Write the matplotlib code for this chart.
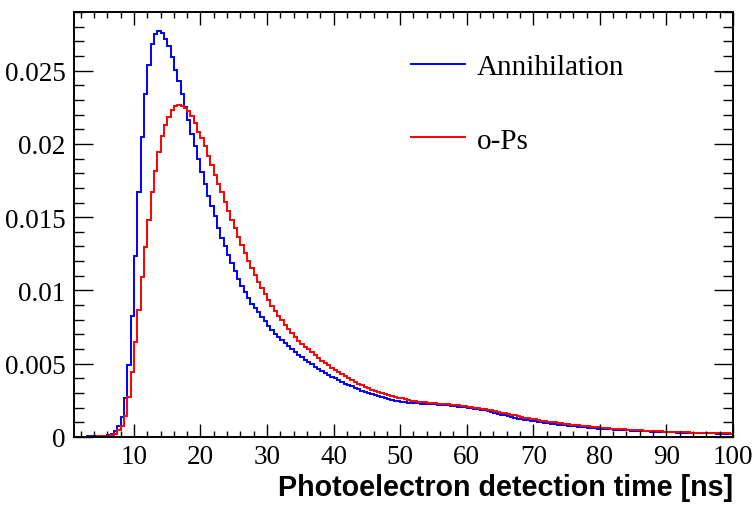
import numpy as np
import matplotlib
matplotlib.use("Agg")
import matplotlib.pyplot as plt
from matplotlib.ticker import MultipleLocator, FixedLocator
from matplotlib.lines import Line2D

# Histogram binning: 0.5 ns bins from 1 to 100 ns
t_lo, t_hi, bin_w = 1.0, 100.0, 0.5

# Annihilation (blue), one value per 0.5 ns bin, rows of 5 ns
annihilation = [
    0.00002, 0.00002, 0.00003, 0.00003, 0.00004, 0.00004, 0.00005, 0.00006, 0.00007, 0.00009,
    0.00013, 0.00022, 0.00040, 0.00075, 0.00139, 0.00266, 0.00490, 0.00827, 0.01237, 0.01669,
    0.02044, 0.02340, 0.02540, 0.02680, 0.02750, 0.02770, 0.02756, 0.02715, 0.02665, 0.02590,
    0.02503, 0.02430, 0.02340, 0.02250, 0.02160, 0.02067, 0.01987, 0.01896, 0.01810, 0.01723,
    0.01644, 0.01574, 0.01505, 0.01429, 0.01357, 0.01300, 0.01244, 0.01187, 0.01130, 0.01078,
    0.01032, 0.00990, 0.00950, 0.00910, 0.00880, 0.00850, 0.00820, 0.00790, 0.00760, 0.00730,
    0.00705, 0.00680, 0.00660, 0.00640, 0.00620, 0.00600, 0.00580, 0.00560, 0.00543, 0.00527,
    0.00510, 0.00495, 0.00480, 0.00465, 0.00450, 0.00437, 0.00424, 0.00411, 0.00400, 0.00388,
    0.00376, 0.00365, 0.00355, 0.00345, 0.00335, 0.00326, 0.00317, 0.00308, 0.00300, 0.00292,
    0.00285, 0.00278, 0.00271, 0.00265, 0.00259, 0.00254, 0.00249, 0.00245, 0.00241, 0.00238,
    0.00235, 0.00233, 0.00231, 0.00229, 0.00227, 0.00226, 0.00225, 0.00224, 0.00223, 0.00221,
    0.00220, 0.00218, 0.00216, 0.00214, 0.00211, 0.00208, 0.00205, 0.00202, 0.00199, 0.00196,
    0.00193, 0.00190, 0.00186, 0.00181, 0.00175, 0.00169, 0.00163, 0.00158, 0.00153, 0.00148,
    0.00143, 0.00137, 0.00131, 0.00126, 0.00122, 0.00118, 0.00114, 0.00110, 0.00107, 0.00103,
    0.00100, 0.00097, 0.00094, 0.00091, 0.00088, 0.00085, 0.00083, 0.00080, 0.00077, 0.00075,
    0.00072, 0.00070, 0.00068, 0.00066, 0.00064, 0.00062, 0.00060, 0.00058, 0.00057, 0.00055,
    0.00054, 0.00052, 0.00051, 0.00050, 0.00048, 0.00047, 0.00045, 0.00044, 0.00043, 0.00041,
    0.00040, 0.00039, 0.00038, 0.00037, 0.00036, 0.00035, 0.00034, 0.00033, 0.00033, 0.00032,
    0.00031, 0.00030, 0.00030, 0.00029, 0.00028, 0.00028, 0.00027, 0.00027, 0.00026, 0.00025,
    0.00025, 0.00024, 0.00024, 0.00023, 0.00023, 0.00022, 0.00022, 0.00021,
]

# o-Ps (red)
ops = [
    0.00001, 0.00001, 0.00002, 0.00002, 0.00002, 0.00003, 0.00003, 0.00004, 0.00005, 0.00006,
    0.00008, 0.00012, 0.00022, 0.00048, 0.00077, 0.00145, 0.00271, 0.00441, 0.00646, 0.00868,
    0.01094, 0.01298, 0.01482, 0.01669, 0.01817, 0.01942, 0.02051, 0.02128, 0.02181, 0.02233,
    0.02256, 0.02267, 0.02262, 0.02245, 0.02225, 0.02190, 0.02142, 0.02083, 0.02037, 0.01983,
    0.01919, 0.01855, 0.01787, 0.01726, 0.01669, 0.01605, 0.01544, 0.01482, 0.01424, 0.01366,
    0.01310, 0.01255, 0.01203, 0.01153, 0.01105, 0.01060, 0.01016, 0.00975, 0.00935, 0.00897,
    0.00860, 0.00826, 0.00795, 0.00765, 0.00737, 0.00709, 0.00683, 0.00658, 0.00634, 0.00611,
    0.00600, 0.00580, 0.00560, 0.00540, 0.00522, 0.00505, 0.00488, 0.00472, 0.00457, 0.00442,
    0.00428, 0.00414, 0.00400, 0.00388, 0.00376, 0.00364, 0.00353, 0.00343, 0.00333, 0.00324,
    0.00315, 0.00307, 0.00300, 0.00293, 0.00286, 0.00280, 0.00274, 0.00268, 0.00263, 0.00258,
    0.00253, 0.00249, 0.00245, 0.00242, 0.00239, 0.00236, 0.00234, 0.00232, 0.00230, 0.00228,
    0.00226, 0.00224, 0.00222, 0.00220, 0.00217, 0.00215, 0.00212, 0.00209, 0.00206, 0.00203,
    0.00200, 0.00197, 0.00194, 0.00190, 0.00186, 0.00182, 0.00177, 0.00172, 0.00167, 0.00162,
    0.00157, 0.00152, 0.00147, 0.00142, 0.00137, 0.00132, 0.00128, 0.00124, 0.00120, 0.00116,
    0.00112, 0.00108, 0.00105, 0.00102, 0.00099, 0.00096, 0.00093, 0.00090, 0.00087, 0.00084,
    0.00082, 0.00079, 0.00077, 0.00074, 0.00072, 0.00070, 0.00068, 0.00066, 0.00064, 0.00062,
    0.00060, 0.00058, 0.00057, 0.00055, 0.00053, 0.00052, 0.00050, 0.00049, 0.00047, 0.00046,
    0.00045, 0.00043, 0.00042, 0.00041, 0.00040, 0.00039, 0.00038, 0.00037, 0.00036, 0.00035,
    0.00034, 0.00033, 0.00032, 0.00032, 0.00031, 0.00030, 0.00029, 0.00029, 0.00028, 0.00027,
    0.00027, 0.00026, 0.00026, 0.00025, 0.00025, 0.00024, 0.00024, 0.00023,
]

labels = ["Annihilation", "o-Ps"]
colors = ["#0000ff", "#ff0000"]
y_ticks = [0, 0.005, 0.01, 0.015, 0.02, 0.025]
y_ticklabels = ["0", "0.005", "0.01", "0.015", "0.02", "0.025"]
x_ticks = [10, 20, 30, 40, 50, 60, 70, 80, 90, 100]

edges = np.arange(t_lo, t_hi + bin_w / 2, bin_w)

fig = plt.figure(figsize=(7.54, 5.06), dpi=100)
ax = fig.add_axes([74 / 754, 1 - 438 / 506, 659 / 754, 425 / 506])

for vals, c in zip([annihilation, ops], colors):
    ax.stairs(vals, edges, color=c, lw=1.4, baseline=None)

ax.set_xlim(t_lo, t_hi)
ax.set_ylim(0, 0.029)

serif = "Liberation Serif"
ax.xaxis.set_major_locator(FixedLocator(x_ticks))
ax.xaxis.set_minor_locator(MultipleLocator(2))
ax.yaxis.set_major_locator(FixedLocator(y_ticks))
ax.yaxis.set_minor_locator(MultipleLocator(0.001))
ax.set_yticklabels(y_ticklabels)
ax.set_xticklabels([str(v) for v in x_ticks])

ax.tick_params(which="both", direction="in", top=True, right=True, width=1.0, color="black")
ax.tick_params(axis="x", which="major", length=9.5, pad=5)
ax.tick_params(axis="x", which="minor", length=4.5)
ax.tick_params(axis="y", which="major", length=13.5, pad=6)
ax.tick_params(axis="y", which="minor", length=7)
for lab in ax.get_xticklabels() + ax.get_yticklabels():
    lab.set_fontfamily(serif)
    lab.set_fontsize(19.5)
for s in ax.spines.values():
    s.set_linewidth(1.4)

ax.set_xlabel("Photoelectron detection time [ns]", fontfamily="Liberation Sans",
              fontweight="bold", fontsize=20.6, loc="right", labelpad=3)

handles = [Line2D([], [], color=c, lw=1.4) for c in colors]
ax.legend(handles, labels, loc="upper left", bbox_to_anchor=(0.511, 0.901),
          frameon=False, prop={"family": serif, "size": 21},
          handlelength=1.86, handletextpad=0.4, labelspacing=1.6,
          borderpad=0, borderaxespad=0)

fig.savefig("out.png", dpi=100)
